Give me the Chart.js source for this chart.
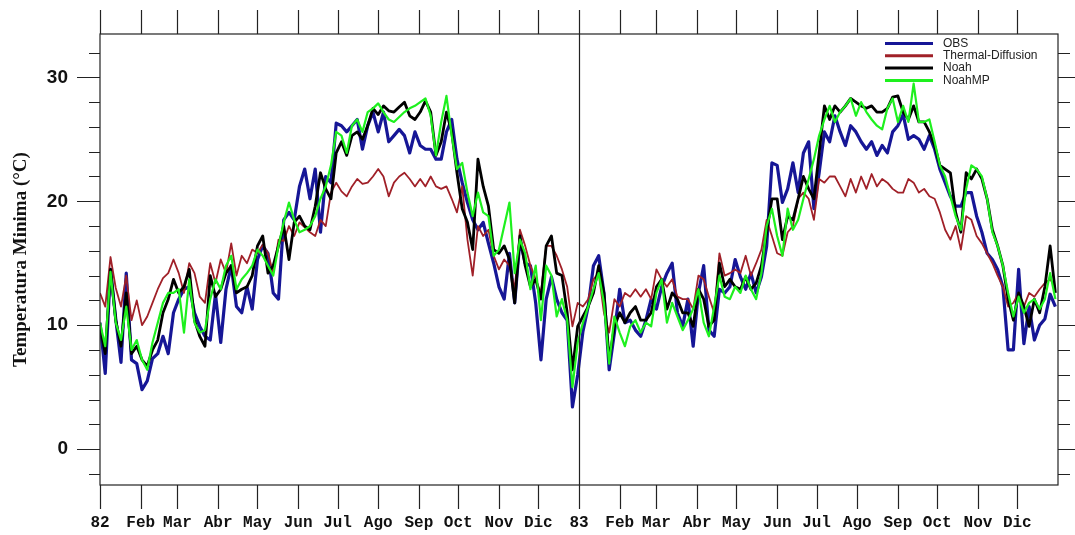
<!DOCTYPE html>
<html lang="es">
<head>
    <meta charset="UTF-8">
    <title>Temperatura Minima 1982-1983</title>
    <script src="https://cdn.jsdelivr.net/npm/chart.js"></script>
    <style>
        body { margin: 0; background: #fff; }
        #wrap { width: 1075px; height: 535px; }
    </style>
</head>
<body>
<div id="wrap"><canvas id="tminChart"></canvas></div>
<script>
    // datos leidos cada 4 dias, desde el 1 de enero de 1982
    const dayStep = 4;

    const obs = [
        10.2, 6.1, 14.5, 10.5, 7.0, 14.2, 7.2, 6.9, 4.8, 5.5, 7.3, 7.7, 9.1, 7.7, 11.0, 12.1, 12.9, 13.1, 11.0, 9.9,
        9.1, 8.8, 12.5, 8.6, 12.9, 14.8, 11.5, 11.0, 13.1, 11.3, 15.3, 16.4, 15.8, 12.6, 12.1, 18.5, 19.1, 18.5, 21.2, 22.6,
        20.2, 22.6, 17.5, 22.0, 21.5, 26.3, 26.1,
        25.6, 26.1, 26.6, 24.2, 26.1, 27.2, 25.6, 27.2, 24.8, 25.3, 25.8, 25.3, 23.9, 25.6, 24.5, 24.2, 24.2, 23.4, 23.4, 25.6,
        26.6, 23.4, 21.5, 19.9, 18.5, 17.7, 18.3, 16.6, 15.0, 13.1, 12.1, 15.8, 11.8, 16.9, 15.0, 14.8, 11.8, 7.2, 12.1, 13.9,
        12.1, 11.0, 10.4, 3.4, 6.0,
        9.5, 11.5, 14.8, 15.6, 12.6, 6.4, 9.4, 12.9, 10.2, 10.4, 9.6, 9.1, 10.4, 12.1, 11.3, 13.1, 14.2, 15.0, 11.0, 9.9,
        12.1, 8.3, 12.6, 14.8, 9.6, 9.1, 12.9, 12.6, 13.1, 15.3, 13.9, 12.9, 14.2, 12.6, 13.9, 16.4, 23.1, 22.9, 19.9, 21.0,
        23.1, 20.7, 23.9, 24.8, 19.4, 22.3,
        25.6, 24.8, 26.9, 25.6, 24.5, 26.1, 25.6, 24.8, 24.2, 24.8, 23.7, 24.5, 23.9, 25.6, 26.1, 27.0, 25.0, 25.3, 25.0, 24.2,
        25.3, 24.2, 22.6, 21.5, 20.4, 19.6, 19.6, 20.7, 20.7, 18.8, 17.5, 15.8, 15.3, 14.5, 13.1, 8.0, 8.0, 14.5, 8.5, 11.5,
        8.8, 10.0, 10.5, 12.5, 11.5
    ];

    const thermalDiffusion = [
        12.6, 11.5, 15.5, 13.0, 11.5, 14.0, 10.4, 12.0, 10.0, 10.7, 11.8, 12.9, 13.8, 14.2, 15.3, 14.2, 12.6, 15.0, 14.2, 12.3,
        11.8, 15.0, 13.4, 15.3, 14.2, 16.6, 14.0, 15.6, 15.0, 16.1, 15.8, 16.5, 15.8, 14.2, 16.9, 16.8, 18.0, 17.2, 18.3, 17.9,
        17.5, 17.2, 18.5, 18.0, 20.7, 21.5, 20.8,
        20.4, 21.2, 21.8, 21.4, 21.5, 22.0, 22.6, 22.0, 20.4, 21.5, 22.0, 22.3, 21.8, 21.2, 21.8, 21.2, 22.0, 21.2, 21.0, 21.2,
        20.2, 19.1, 21.2, 16.9, 14.0, 18.0, 17.2, 17.7, 15.6, 14.5, 15.3, 14.8, 12.9, 17.7, 16.4, 14.8, 13.7, 12.6, 16.4, 16.4,
        15.6, 14.5, 13.1, 9.9, 11.8,
        11.5, 12.1, 13.7, 14.2, 11.0, 9.4, 12.1, 11.5, 12.6, 12.3, 12.9, 12.3, 12.9, 12.1, 14.5, 13.7, 13.1, 13.7, 12.3, 12.1,
        12.1, 11.3, 14.0, 13.7, 12.3, 11.0, 15.8, 14.0, 14.2, 14.5, 14.2, 15.6, 14.0, 15.0, 16.1, 18.5, 17.2, 15.8, 15.6, 17.5,
        18.0, 20.2, 20.7, 20.2, 18.5, 21.8,
        21.5, 22.0, 22.0, 21.2, 20.4, 21.8, 20.7, 22.0, 21.0, 22.2, 21.2, 21.8, 21.5, 21.0, 20.7, 20.7, 21.8, 21.5, 20.7, 21.0,
        20.4, 20.2, 19.1, 17.7, 16.9, 18.0, 16.1, 18.8, 18.5, 17.2, 16.6, 15.8, 15.0, 14.0, 13.1, 11.5, 11.8, 12.6, 11.5, 12.6,
        12.3, 12.9, 13.4, 13.7, 13.1
    ];

    const noah = [
        9.9, 7.7, 14.5, 10.4, 8.3, 12.6, 7.7, 8.3, 7.2, 6.7, 8.0, 8.8, 11.0, 12.1, 13.7, 12.6, 13.1, 14.5, 10.4, 9.1,
        8.3, 14.0, 12.3, 12.9, 14.2, 14.8, 12.6, 12.9, 13.1, 14.0, 16.4, 17.2, 14.2, 14.8, 16.4, 18.0, 15.3, 18.3, 18.8, 18.0,
        17.7, 19.6, 22.3, 21.0, 20.2, 23.9, 24.8,
        23.7, 25.3, 25.6, 25.0, 26.1, 27.5, 27.0, 27.7, 27.3, 27.2, 27.6, 28.0, 26.9, 26.6, 27.2, 28.1, 27.2, 23.7, 24.8, 27.2,
        25.6, 22.3, 19.4, 18.3, 16.1, 23.4, 21.2, 19.6, 16.1, 15.8, 16.4, 15.3, 11.8, 17.2, 14.8, 13.1, 13.7, 12.1, 16.4, 17.2,
        14.2, 14.0, 11.0, 6.4, 9.9,
        10.7, 11.5, 12.6, 14.8, 12.6, 7.2, 9.9, 11.0, 10.2, 11.0, 11.5, 10.4, 10.4, 11.0, 13.1, 13.7, 11.3, 12.6, 12.1, 11.0,
        11.0, 9.9, 12.9, 12.1, 9.9, 10.4, 15.0, 13.1, 13.7, 13.1, 12.9, 13.9, 12.9, 13.4, 14.8, 17.5, 20.2, 20.2, 16.9, 18.8,
        18.5, 20.2, 22.0, 21.0, 20.2, 23.9,
        27.7, 26.6, 27.7, 27.2, 27.7, 28.3, 28.0, 27.7, 27.5, 27.7, 27.2, 27.2, 27.5, 28.4, 28.5, 27.2, 26.6, 27.7, 26.4, 26.4,
        25.6, 24.5, 22.9, 22.6, 22.3, 19.1, 17.5, 22.3, 21.8, 22.6, 21.8, 20.2, 17.7, 16.4, 14.8, 12.1, 10.4, 12.6, 11.5, 9.9,
        12.1, 11.0, 13.1, 16.4, 12.6
    ];

    const noahMP = [
        10.2, 8.3, 14.3, 10.2, 8.8, 11.5, 8.0, 8.8, 7.2, 6.4, 8.6, 10.2, 11.8, 12.6, 12.6, 12.9, 9.4, 13.7, 10.2, 9.4,
        9.6, 12.1, 13.7, 12.9, 14.8, 15.6, 12.9, 13.7, 14.2, 14.8, 16.1, 15.6, 14.8, 14.0, 16.4, 18.3, 19.9, 18.5, 17.5, 17.7,
        18.0, 18.8, 20.2, 21.2, 22.9, 25.6, 25.3,
        23.9, 26.1, 26.6, 25.6, 27.2, 27.5, 27.9, 27.2, 26.6, 26.4, 26.8, 27.2, 27.5, 27.7, 28.0, 28.3, 26.9, 23.7, 26.4, 28.5,
        25.3, 22.6, 23.1, 20.7, 18.8, 20.7, 19.1, 18.8, 15.6, 16.1, 18.0, 19.9, 14.2, 16.9, 15.8, 12.9, 14.8, 10.4, 14.8, 14.0,
        10.7, 12.1, 10.4, 5.0, 8.6,
        10.2, 11.5, 12.9, 14.2, 11.8, 6.9, 10.7, 9.4, 8.3, 9.9, 10.4, 9.4, 10.2, 9.9, 12.6, 13.7, 10.2, 11.8, 10.7, 9.6,
        10.4, 11.3, 12.9, 10.2, 9.1, 11.5, 14.0, 12.3, 12.1, 13.1, 12.6, 14.0, 12.9, 12.1, 14.2, 18.0, 19.4, 17.2, 15.6, 19.4,
        17.7, 18.5, 20.2, 21.8, 23.4, 25.3,
        26.6, 27.7, 26.4, 27.2, 27.7, 28.3, 26.9, 28.0, 27.2, 26.6, 26.1, 25.8, 27.5, 28.3, 26.4, 27.7, 26.4, 29.5, 26.4, 26.4,
        26.6, 24.8, 22.9, 22.0, 20.4, 18.8, 17.7, 21.0, 22.9, 22.6, 22.0, 20.2, 17.5, 16.4, 14.8, 12.6, 10.7, 12.3, 11.0, 11.8,
        12.1, 11.3, 12.1, 14.2, 12.1
    ];

    // inicio de cada mes (dia desde 1 ene 1982) y sus etiquetas
    const monthStarts = [0, 31, 59, 90, 120, 151, 181, 212, 243, 273, 304, 334,
                         365, 396, 424, 455, 485, 516, 546, 577, 608, 638, 669, 699];
    const monthLabels = ['82', 'Feb', 'Mar', 'Abr', 'May', 'Jun', 'Jul', 'Ago', 'Sep', 'Oct', 'Nov', 'Dic',
                         '83', 'Feb', 'Mar', 'Abr', 'May', 'Jun', 'Jul', 'Ago', 'Sep', 'Oct', 'Nov', 'Dic'];
    const yTicks = [0, 10, 20, 30];
    const yMinorTicks = [-2, 0, 2, 4, 6, 8, 10, 12, 14, 16, 18, 20, 22, 24, 26, 28, 30, 32];
    const yearBreak = 365;

    function toPoints(values) {
        return values.map((v, i) => ({ x: i * dayStep, y: v }));
    }

    // marco, marcas de los ejes, linea del cambio de año y leyenda
    const framePlugin = {
        id: 'framePlugin',
        afterDraw(chart) {
            const ctx = chart.ctx;
            const a = chart.chartArea;
            const xs = chart.scales.x;
            const ys = chart.scales.y;
            ctx.save();
            ctx.strokeStyle = '#222';
            ctx.lineWidth = 1.2;
            ctx.strokeRect(a.left, a.top, a.right - a.left, a.bottom - a.top);

            ctx.beginPath();
            monthStarts.forEach(d => {
                const px = Math.round(xs.getPixelForValue(d)) + 0.5;
                ctx.moveTo(px, a.bottom); ctx.lineTo(px, a.bottom + 24);
                ctx.moveTo(px, a.top); ctx.lineTo(px, a.top - 24);
            });
            yMinorTicks.forEach(v => {
                const py = Math.round(ys.getPixelForValue(v)) + 0.5;
                const major = v % 10 === 0;
                ctx.moveTo(a.left, py); ctx.lineTo(a.left - (major ? 23 : 11), py);
                ctx.moveTo(a.right, py); ctx.lineTo(a.right + (major ? 17 : 12), py);
            });
            ctx.stroke();

            const bx = Math.round(xs.getPixelForValue(yearBreak)) + 0.5;
            ctx.beginPath();
            ctx.moveTo(bx, a.top); ctx.lineTo(bx, a.bottom);
            ctx.stroke();

            // leyenda
            ctx.font = '12px "Liberation Sans", Arial, sans-serif';
            ctx.textBaseline = 'middle';
            ctx.textAlign = 'left';
            chart.data.datasets.forEach((ds, i) => {
                const y = a.top + 9.5 + i * 12.3;
                ctx.strokeStyle = ds.borderColor;
                ctx.lineWidth = 3;
                ctx.beginPath();
                ctx.moveTo(a.right - 173, y); ctx.lineTo(a.right - 125, y);
                ctx.stroke();
                ctx.fillStyle = '#222';
                ctx.fillText(ds.label, a.right - 115, y);
            });
            ctx.restore();
        }
    };

    const ctx = document.getElementById('tminChart').getContext('2d');
    const tminChart = new Chart(ctx, {
        type: 'line',
        data: {
            datasets: [
                { label: 'OBS', data: toPoints(obs), borderColor: 'rgb(22, 22, 150)', borderWidth: 3.2, order: 4 },
                { label: 'Thermal-Diffusion', data: toPoints(thermalDiffusion), borderColor: 'rgb(160, 32, 40)', borderWidth: 1.8, order: 3 },
                { label: 'Noah', data: toPoints(noah), borderColor: 'rgb(0, 0, 0)', borderWidth: 2.8, order: 2 },
                { label: 'NoahMP', data: toPoints(noahMP), borderColor: 'rgb(30, 240, 30)', borderWidth: 2.2, order: 1 }
            ]
        },
        options: {
            responsive: true,
            maintainAspectRatio: false,
            animation: false,
            layout: { padding: { top: 34, right: 17, left: 0, bottom: 0 } },
            elements: {
                point: { radius: 0 },
                line: { tension: 0, borderJoinStyle: 'round' }
            },
            scales: {
                x: {
                    type: 'linear',
                    min: 0,
                    max: 730,
                    afterBuildTicks: scale => { scale.ticks = monthStarts.map(v => ({ value: v })); },
                    afterFit: scale => { scale.height = 50; },
                    grid: { display: false, drawTicks: true, tickLength: 24 },
                    border: { display: false },
                    ticks: {
                        autoSkip: false,
                        maxRotation: 0,
                        padding: 4,
                        color: '#111',
                        font: { family: '"Liberation Mono", "Courier New", monospace', size: 16, weight: 'bold' },
                        callback: value => monthLabels[monthStarts.indexOf(value)]
                    }
                },
                y: {
                    min: -2.9,
                    max: 33.5,
                    afterBuildTicks: scale => { scale.ticks = yTicks.map(v => ({ value: v })); },
                    afterFit: scale => { scale.width = 100; },
                    grid: { display: false, drawTicks: true, tickLength: 23 },
                    border: { display: false },
                    ticks: {
                        padding: 9,
                        color: '#111',
                        font: { family: '"Liberation Sans", Arial, sans-serif', size: 19, weight: 'bold' }
                    },
                    title: {
                        display: true,
                        text: 'Temperatura Minima (°C)',
                        color: '#111',
                        padding: { top: 10, bottom: 0 },
                        font: { family: '"Liberation Serif", "Times New Roman", serif', size: 19, weight: 'bold' }
                    }
                }
            },
            plugins: {
                legend: { display: false },
                tooltip: { enabled: false }
            }
        },
        plugins: [framePlugin]
    });
</script>
</body>
</html>
